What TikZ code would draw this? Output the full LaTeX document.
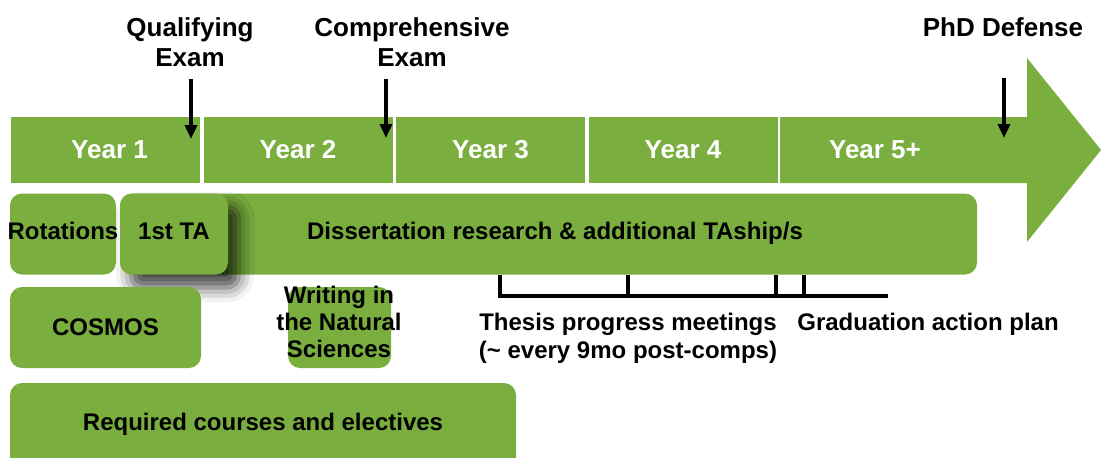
\documentclass[tikz,border=0pt]{standalone}
\usepackage{fontspec}
\setmainfont{Liberation Sans}
\usepackage{xcolor}
\usepackage{tikz}
\usetikzlibrary{arrows.meta, positioning, shadows.blur}

\definecolor{leafgreen}{RGB}{122,174,62}

\tikzset{
    yearbox/.style={fill=leafgreen, draw=white, line width=3.5pt, outer sep=0pt,
        minimum width=192.5pt, minimum height=69.5pt, text=white,
        font=\bfseries\fontsize{26}{30}\selectfont},
    phase/.style={fill=leafgreen, rounded corners=12pt, inner sep=0pt, outer sep=0pt,
        text depth=6pt},
    milestone/.style={align=center, font=\bfseries\fontsize{26}{30}\selectfont},
    examarrow/.style={-{Triangle[length=14pt, width=12pt]}, line width=4.5pt},
    bracket/.style={line width=4pt}
}

\begin{document}
\begin{tikzpicture}[x=1pt, y=-1pt, font=\bfseries\fontsize{24}{28}\selectfont]
    \useasboundingbox (0,0) rectangle (1101,458);
    \clip (0,0) rectangle (1101,458);

    % timeline
    \node[yearbox] (y1) at (105.5,150) {\hspace*{8pt}Year 1};
    \node[yearbox, right=0pt of y1] (y2) {Year 2};
    \node[yearbox, right=0pt of y2] (y3) {Year 3};
    \node[yearbox, right=0pt of y3] (y4) {Year 4};
    \fill[leafgreen] (780,117) -- (1027,117) -- (1027,58) -- (1101,150)
        -- (1027,242) -- (1027,183) -- (780,183) -- cycle;
    \node[text=white, font=\bfseries\fontsize{26}{30}\selectfont] (y5) at (875,150) {Year 5+};

    % milestones
    \node[milestone, anchor=south] (qual) at (190,70) {Qualifying\\Exam};
    \node[milestone, anchor=south] (comp) at (412,70) {Comprehensive\\Exam};
    \node[milestone, anchor=south] (phd) at (1003,40) {PhD Defense};

    \coordinate (qtip) at (191,139);
    \coordinate (ctip) at (386,138);
    \coordinate (dtip) at (1004,138);

    \draw[examarrow, shorten <=9pt] (qual.south -| qtip) -- (qtip);
    \draw[examarrow, shorten <=9pt] (comp.south -| ctip) -- (ctip);
    \draw[examarrow, shorten <=38pt] (phd.south -| dtip) -- (dtip);

    % research and teaching
    \node[phase, minimum width=857pt, minimum height=81pt] (diss) at (548.5,234)
        {\hspace*{13pt}Dissertation research \& additional TAship/s};
    \node[phase, minimum width=106pt, minimum height=81pt] (rot) at (63,234)
        {\makebox[0pt]{Rotations}};
    \node[phase, minimum width=108pt, minimum height=81pt,
        blur shadow={shadow xshift=11pt, shadow yshift=-13pt,
            shadow blur radius=15pt, shadow opacity=75}] (ta) at (174,234) {1st TA};

    % coursework
    \node[phase, minimum width=191pt, minimum height=81pt, text depth=0pt] (cosmos)
        at (105.5,327.5) {COSMOS};
    \node[phase, minimum width=103pt, minimum height=81pt] (wns) at (339.5,327.5) {};
    \node[align=center, font=\bfseries\fontsize{24}{27}\selectfont] (wnstext)
        at (339,322) {Writing in\\the Natural\\Sciences};
    \node[phase, anchor=north, minimum width=506pt, minimum height=90pt,
        text depth=12pt] (req) at (263,383) {Required courses and electives};

    % committee meetings
    \coordinate (b0) at (500,296);
    \coordinate (b1) at (628,296);
    \coordinate (b2) at (776,296);
    \coordinate (b3) at (804,296);
    \coordinate (bend) at (888,296);

    \draw[bracket] (diss.south -| b0) -- (b0) -- (bend);
    \foreach \b in {b1,b2,b3}
        \draw[bracket] (diss.south -| \b) -- ([yshift=-1pt]\b);

    \node[align=center] (thesis) at (628,338)
        {Thesis progress meetings\\(\textasciitilde{} every 9mo post-comps)};
    \node (grad) at (928,324) {Graduation action plan};
\end{tikzpicture}
\end{document}
